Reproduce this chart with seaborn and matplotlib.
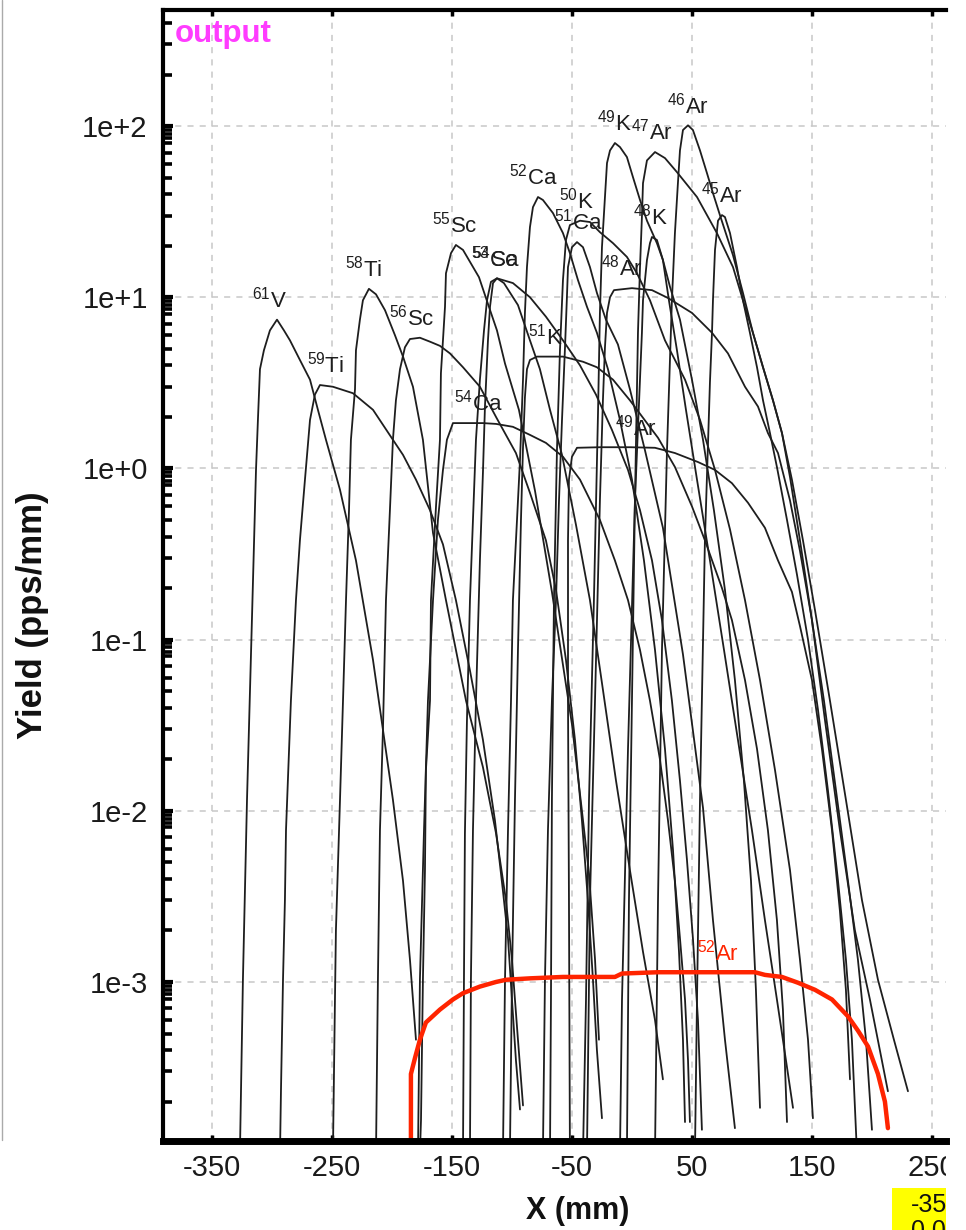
import numpy as np
import pandas as pd
import matplotlib
matplotlib.use("Agg")
import matplotlib.pyplot as plt
import seaborn as sns
from matplotlib.ticker import LogLocator, FixedLocator, NullFormatter, FuncFormatter
from matplotlib.transforms import Bbox, TransformedBbox
from matplotlib.patches import Rectangle
from matplotlib.lines import Line2D

# ---------------- data (X in mm, Yield in pps/mm) ----------------
x_61V = [-326.7, -324.2, -320.8, -316.7, -313.3, -311.7, -310, -306.7, -301.7, -295.8, -290, -285,
         -276.7, -268.3, -261.7, -255, -243.3, -230, -215.8, -199.2, -190.8, -185, -180]
y_61V = [1e-4, 0.00103, 0.0116, 0.13, 0.98, 1.92, 3.8, 4.9, 6.4, 7.4, 6.4, 5.6,
         4.3, 3.3, 2.2, 1.47, 0.75, 0.29, 0.076, 0.0116, 0.0039, 0.00135, 0.00046]

x_59Ti = [-293.3, -292.5, -290.8, -289.2, -288.3, -284.2, -280, -276.7, -272.5, -268.3, -264.2, -260,
          -249.2, -232.5, -215.8, -199.2, -190.8, -180, -168.3, -157.5, -146.7, -135, -124.2, -114.2,
          -107.5, -103.3, -100, -96.7, -93.3]
y_59Ti = [1e-4, 2.3e-4, 0.00103, 0.0030, 0.0077, 0.044, 0.17, 0.38, 0.86, 1.92, 2.7, 3.07,
          3.0, 2.75, 2.2, 1.47, 1.2, 0.86, 0.57, 0.36, 0.17, 0.066, 0.026, 0.0088,
          0.0034, 0.0018, 0.00079, 0.00035, 0.00018]

x_58Ti = [-249.2, -247.5, -246.7, -243.3, -240.8, -238.3, -235.8, -234.2, -230.8, -230, -226.7, -224.2,
          -219.2, -213.3, -205.8, -197.5, -190.8, -182.5, -174.2, -165.8, -155, -146.7, -138.3, -124.2,
          -113.3, -105, -100, -95, -90.8]
y_58Ti = [1e-4, 7.9e-4, 0.0020, 0.0116, 0.044, 0.17, 0.57, 1.47, 2.9, 4.9, 7.4, 9.6,
          11.2, 10.4, 8.4, 6.0, 4.5, 3.0, 1.47, 0.42, 0.17, 0.087, 0.044, 0.018,
          0.0074, 0.0030, 0.00135, 0.00046, 0.00019]

x_56Sc = [-213.3, -211.7, -210, -207.5, -205, -201.7, -199.2, -196.7, -193.3, -189.2, -185, -176.7,
          -168.3, -160, -151.7, -140.8, -126.7, -113.3, -96.7, -85, -71.7, -63.3, -55, -47.5,
          -41.7, -36.7, -32.5, -29.2, -25]
y_56Sc = [1e-4, 0.00103, 0.0077, 0.030, 0.17, 0.57, 1.47, 2.5, 3.8, 5.1, 5.7, 5.8,
          5.5, 5.2, 4.7, 3.9, 3.0, 2.0, 1.23, 0.72, 0.38, 0.195, 0.076, 0.026,
          0.0088, 0.0030, 0.00103, 0.00040, 0.00016]

x_55Sc = [-176.7, -175.8, -174.2, -172.5, -171.7, -168.3, -167.5, -163.3, -160, -159.2, -157.5, -155.8,
          -155, -150.8, -146.7, -140.8, -127.5, -119.2, -112.5, -105.8, -94.2, -80.8, -66.7, -50,
          -41.7, -35.8, -30.8, -27.5]
y_55Sc = [1e-4, 1.56e-4, 0.00103, 0.0045, 0.0173, 0.044, 0.17, 0.60, 1.47, 3.6, 5.6, 8.8,
          13.8, 18.1, 20.2, 18.9, 13.1, 8.8, 6.4, 4.1, 2.2, 0.74, 0.19, 0.032,
          0.010, 0.0043, 0.00136, 0.00046]

x_54Ca = [-178.3, -176.7, -173.3, -170, -165.8, -161.7, -157.5, -154.2, -149.2, -143.3, -124.2, -113.3,
          -99.2, -85, -71.7, -57.5, -43.3, -26.7, -14.2, -3.3, 6.7, 15, 23.3, 30,
          35.8, 40, 44.2, 46.7, 48.3]
y_54Ca = [1e-4, 0.00103, 0.0077, 0.044, 0.17, 0.50, 0.98, 1.47, 1.84, 1.84, 1.84, 1.82,
          1.75, 1.57, 1.41, 1.17, 0.86, 0.50, 0.29, 0.17, 0.087, 0.044, 0.020, 0.0088,
          0.0039, 0.0018, 0.00079, 0.00035, 1.52e-4]

x_53Ca = [-135, -134.2, -132.5, -130, -126.7, -124.2, -122.5, -120, -118.3, -115.8, -112.5, -106.7,
          -95, -85, -76.7, -68.3, -58.3, -46.7, -35, -24.2, -13.3, -1.7, 9.2, 19.2, 25.8]
y_53Ca = [1e-4, 0.00103, 0.0077, 0.044, 0.29, 0.94, 2.3, 5.6, 8.8, 12.1, 12.9, 12.1,
          9.0, 5.6, 3.8, 2.2, 1.2, 0.47, 0.17, 0.051, 0.015, 0.0045, 0.0015, 0.0006, 2.7e-4]

x_54Sc = [-140.8, -140, -139.2, -137.5, -135, -132.5, -130, -126.7, -123.3, -120.8, -117.5, -112.5,
          -99.2, -85, -71.7, -57.5, -43.3, -30, -16.7, -3.3, 6.7, 16.7, 25, 33.3,
          40, 45.8, 50.8, 55, 58.3]
y_54Sc = [1e-4, 0.00103, 0.0074, 0.034, 0.17, 0.50, 1.47, 3.3, 6.4, 9.6, 12.3, 12.9,
          12.1, 10.0, 7.7, 5.6, 4.0, 2.7, 1.68, 0.98, 0.57, 0.29, 0.13, 0.044,
          0.015, 0.0052, 0.0018, 0.0006, 1.37e-4]

x_52Ca = [-107.5, -105.8, -105, -103.3, -100.8, -99.2, -95.8, -93.3, -90.8, -89.2, -87.5, -85,
          -82.5, -78.3, -74.2, -65.8, -57.5, -51.7, -45, -37.5, -29.2, -20, -10, 0,
          10, 19.2, 27.5, 34.2, 39.2, 42.5, 44.2]
y_52Ca = [1e-4, 0.00103, 0.0020, 0.0077, 0.044, 0.17, 0.50, 1.12, 3.3, 8.1, 15.0, 25.7,
          33.6, 38.5, 37, 31.0, 23.7, 18.1, 12.6, 8.8, 6.2, 3.8, 1.92, 0.86,
          0.29, 0.087, 0.023, 0.0059, 0.0015, 0.00046, 1.52e-4]

x_51Ca = [-74.2, -72.5, -70, -66.7, -63.3, -60.8, -58.3, -55.8, -54.2, -53.3, -50, -45.8,
          -40.8, -35, -29.2, -21.7, -11.7, -1.7, 10.8, 25.8, 42.5, 59.2, 67.5, 77.5, 85.8]
y_51Ca = [1e-4, 0.00103, 0.0077, 0.044, 0.17, 0.65, 1.92, 5.1, 10.0, 15.0, 19.6, 21.0,
          19.6, 15.0, 10.6, 7.4, 5.3, 2.9, 1.28, 0.45, 0.082, 0.0104, 0.0023, 0.00046, 1.4e-4]

x_50K = [-68.3, -67.5, -66.7, -65, -62.5, -60, -57.5, -55, -51.7, -43.3, -35, -26.7,
         -15.8, -4.2, 4.2, 15, 27.5, 44.2, 56.7, 69.2, 81.7, 94.2, 106.7, 119.2,
         131.7, 140, 146.7, 150.8]
y_50K = [1e-4, 0.00079, 0.0116, 0.17, 1.28, 4.9, 12.6, 21.6, 26.4, 28, 27.5, 24.0,
         20.7, 17.2, 13.8, 9.6, 5.6, 3.3, 1.92, 0.98, 0.44, 0.17, 0.058, 0.0173,
         0.0045, 0.00135, 0.00046, 1.6e-4]

x_51K = [-101.7, -100, -97.5, -95, -92.5, -90.8, -89.2, -87.5, -85, -79.2, -57.5, -40.8,
         -29.2, -15.8, -1.7, 12.5, 21.7, 35.8, 50, 60.8, 75, 83.3, 94.2, 104.2,
         113.3, 120.8, 125.8, 129.2]
y_51K = [1e-4, 0.00103, 0.0116, 0.087, 0.50, 1.33, 2.6, 3.8, 4.3, 4.5, 4.5, 4.2,
         3.9, 3.3, 2.5, 1.84, 1.51, 1.02, 0.60, 0.38, 0.20, 0.13, 0.058, 0.023,
         0.0077, 0.0023, 0.00069, 1.52e-4]

x_49K = [-40.8, -38.3, -35.8, -31.7, -28.3, -26.7, -25, -22.5, -20.8, -18.3, -14.2, -10,
         -4.2, 0.8, 6.7, 12.5, 20.8, 25.8, 31.7, 40, 50, 59.2, 68.3, 77.5,
         85.8, 93.3, 99.2, 103.3, 106.7]
y_49K = [1e-4, 0.00079, 0.0116, 0.17, 2.1, 8.1, 19.6, 38.5, 60.8, 72, 79.6, 75.4,
         65.9, 50.4, 37, 28, 20.7, 16.5, 11.5, 7.4, 3.3, 1.47, 0.57, 0.195,
         0.058, 0.015, 0.0039, 0.0009, 1.84e-4]

x_48K = [-10, -8.3, -3.3, 2.5, 8.3, 9.2, 12.5, 15, 16.7, 20.8, 25.8, 30.8,
         37.5, 45, 54.2, 65, 76.7, 88.3, 100, 110.8, 120.8, 128.3, 134.2]
y_48K = [1e-4, 0.00079, 0.023, 0.65, 6.2, 9.6, 16.5, 20.7, 22.5, 21.6, 16.5, 9.6,
         4.9, 2.2, 0.86, 0.29, 0.087, 0.026, 0.0077, 0.0023, 0.00079, 0.00035, 1.84e-4]

x_47Ar = [-4.2, -2.5, 0, 2.5, 5, 6.7, 8.3, 9.2, 12.5, 19.2, 27.5, 37.5,
          54.2, 70.8, 84.2, 92.5, 100.8, 109.2, 117.5, 125, 131.7, 140, 150, 160.8,
          173.3, 185.8, 198.3, 213.3]
y_47Ar = [1e-4, 0.0030, 0.044, 0.65, 6.2, 15.0, 29.4, 46.4, 63, 70.5, 65, 53.8,
          38.5, 23.7, 15.0, 9.6, 6.2, 3.9, 2.5, 1.61, 0.89, 0.38, 0.13, 0.034,
          0.0077, 0.0020, 0.00079, 2.3e-4]

x_46Ar = [19.2, 21.7, 25, 29.2, 33.3, 35.8, 38.3, 40, 42.5, 46.7, 50.8, 56.7,
          62.5, 67.5, 73.3, 84.2, 92.5, 100.8, 109.2, 117.5, 125, 133.3, 142.5, 152.5,
          165, 178.3, 191.7, 205, 218.3, 230]
y_46Ar = [1e-4, 0.0030, 0.087, 1.28, 9.6, 23.7, 46.4, 72, 94.8, 101, 94.8, 72,
          53.1, 40.6, 30.2, 17.6, 10.6, 6.2, 3.9, 2.5, 1.61, 0.86, 0.38, 0.149,
          0.044, 0.0116, 0.0030, 0.00103, 0.00046, 2.3e-4]

x_45Ar = [52.5, 54.2, 56.7, 60.8, 65, 66.7, 67.5, 69.2, 71.7, 75, 77.5, 81.7,
          87.5, 92.5, 98.3, 104.2, 109.2, 115, 120.8, 129.2, 137.5, 146.7, 155, 163.3,
          171.7, 178.3, 183.3, 187.5]
y_45Ar = [1e-4, 0.00079, 0.0116, 0.38, 3.2, 6.2, 9.6, 18.9, 28, 30.2, 29.4, 23.7,
          15.0, 9.6, 6.2, 3.9, 2.5, 1.61, 1.02, 0.50, 0.24, 0.10, 0.039, 0.0132,
          0.0039, 0.00135, 0.00046, 1e-4]

x_48Ar = [-37.5, -35, -30.8, -26.7, -24.2, -22.5, -20.8, -18.3, -15, 0, 16.7, 30,
          50, 66.7, 80, 94.2, 105, 113.3, 121.7, 131.7, 140, 150, 160, 170,
          180, 188.3, 195, 200]
y_48Ar = [1e-4, 0.0030, 0.044, 0.65, 2.5, 5.1, 8.1, 10.0, 11.0, 11.3, 11.0, 9.9,
          8.1, 6.2, 4.7, 3.0, 2.3, 1.61, 1.23, 0.65, 0.33, 0.13, 0.044, 0.0132,
          0.0039, 0.00135, 0.00046, 1.37e-4]

x_49Ar = [-51.7, -52.5, -53.3, -53.3, -52.5, -50, -45.8, -26.7, -1.7, 19.2, 35.8, 55,
          69.2, 83.3, 96.7, 110.8, 121.7, 133.3, 140, 150, 158.3, 166.7, 173.3, 178.3, 181.7]
y_49Ar = [1e-4, 0.0030, 0.044, 0.38, 0.86, 1.17, 1.32, 1.33, 1.33, 1.32, 1.23, 1.09,
          0.98, 0.82, 0.63, 0.45, 0.29, 0.19, 0.12, 0.058, 0.023, 0.0077, 0.0026, 0.0009, 0.00027]

x_52Ar = [-184.2, -184.2, -180.8, -176.7, -171.7, -160, -149.2, -140.8, -126.7, -113.3, -105, -85,
          -57.5, -14.2, -8.3, 21.7, 102.5, 110.8, 125, 138.3, 152.5, 166.7, 180, 188.3,
          196.7, 205, 210.8, 213.3]
y_52Ar = [1.1e-4, 0.00029, 0.00036, 0.00046, 0.00058, 0.00069, 0.00079, 0.00086, 0.00094, 0.00100, 0.00103, 0.00105,
          0.00107, 0.00107, 0.00112, 0.00114, 0.00114, 0.00110, 0.00107, 0.00099, 0.00090, 0.00079, 0.00063, 0.00052,
          0.00042, 0.00029, 0.00020, 0.00014]

# isotope names, masses, elements, label centre X (mm)
isotopes = ["61V", "59Ti", "58Ti", "56Sc", "55Sc", "54Ca", "53Ca", "54Sc", "52Ca", "51Ca",
            "50K", "51K", "49K", "48K", "47Ar", "46Ar", "45Ar", "48Ar", "49Ar", "52Ar"]
masses = [61, 59, 58, 56, 55, 54, 53, 54, 52, 51, 50, 51, 49, 48, 47, 46, 45, 48, 49, 52]
elements = ["V", "Ti", "Ti", "Sc", "Sc", "Ca", "Ca", "Sc", "Ca", "Ca",
            "K", "K", "K", "K", "Ar", "Ar", "Ar", "Ar", "Ar", "Ar"]
label_x = [-301.7, -255.8, -223.3, -183.3, -147.5, -128.3, -114.2, -114.2, -82.5, -45,
           -46.7, -72.5, -15, 15, 16.7, 46.7, 75, -8.3, 3.3, 71.7]

series_x = [x_61V, x_59Ti, x_58Ti, x_56Sc, x_55Sc, x_54Ca, x_53Ca, x_54Sc, x_52Ca, x_51Ca,
            x_50K, x_51K, x_49K, x_48K, x_47Ar, x_46Ar, x_45Ar, x_48Ar, x_49Ar, x_52Ar]
series_y = [y_61V, y_59Ti, y_58Ti, y_56Sc, y_55Sc, y_54Ca, y_53Ca, y_54Sc, y_52Ca, y_51Ca,
            y_50K, y_51K, y_49K, y_48K, y_47Ar, y_46Ar, y_45Ar, y_48Ar, y_49Ar, y_52Ar]

x_ticks = [-350, -250, -150, -50, 50, 150, 250]
y_ticks = [1e-3, 1e-2, 1e-1, 1e0, 1e1, 1e2]
readout_lines = ["-350.000", "0.0000"]

# ---------------- build long table ----------------
frames = []
for name, xs, ys in zip(isotopes, series_x, series_y):
    frames.append(pd.DataFrame({"X": xs, "Yield": ys, "isotope": name, "order": range(len(xs))}))
df = pd.concat(frames, ignore_index=True)
black = df[df.isotope != "52Ar"]
red = df[df.isotope == "52Ar"]

# ---------------- style ----------------
sns.set_theme(style="white")
plt.rcParams["font.family"] = ["Liberation Sans", "DejaVu Sans"]
plt.rcParams["mathtext.fontset"] = "custom"
plt.rcParams["mathtext.rm"] = "Liberation Sans"
plt.rcParams["mathtext.it"] = "Liberation Sans:italic"
plt.rcParams["mathtext.bf"] = "Liberation Sans:bold"
plt.rcParams["axes.unicode_minus"] = False

W, H = 966, 1230
fig = plt.figure(figsize=(W / 100, H / 100), dpi=100)
ax = fig.add_axes([163 / W, 89 / H, 783 / W, 1131 / H])

LINE = "#1e1e1e"
RED = "#ff2400"

sns.lineplot(data=black, x="X", y="Yield", units="isotope", estimator=None, sort=False,
             color=LINE, linewidth=1.3, ax=ax, legend=False)
sns.lineplot(data=red, x="X", y="Yield", estimator=None, sort=False,
             color=RED, linewidth=3.2, ax=ax, legend=False)

ax.set_yscale("log")
ax.set_xlim(-390.8, 261.7)
ax.set_ylim(10 ** -3.929, 10 ** 2.678)

ax.xaxis.set_major_locator(FixedLocator(x_ticks))
ax.yaxis.set_major_locator(FixedLocator(y_ticks))
ax.yaxis.set_minor_locator(LogLocator(base=10, subs=(2, 3, 4, 5, 6, 7, 8, 8.5, 9, 9.5), numticks=100))
ax.yaxis.set_minor_formatter(NullFormatter())
ax.yaxis.set_major_formatter(FuncFormatter(lambda v, p: "1e%+d" % int(round(np.log10(v)))))
ax.xaxis.set_major_formatter(FuncFormatter(lambda v, p: "%d" % v))

ax.grid(True, which="major", axis="both", color="#c8c8c8", linestyle=(0, (4, 4)), linewidth=1.1)
ax.set_axisbelow(True)

ax.tick_params(axis="y", which="major", direction="in", length=7, width=3, left=True, right=False,
               labelsize=21, pad=11, color="black", labelcolor="#1a1a1a")
ax.tick_params(axis="y", which="minor", direction="in", length=6.5, width=2.6, left=True, right=False,
               color="black")
ax.tick_params(axis="x", which="major", direction="in", length=4, width=2.5, top=True, bottom=True,
               labelsize=21, pad=9, color="black", labelcolor="#1a1a1a")

for side, lw in [("left", 3.0), ("top", 3.0), ("bottom", 5.0)]:
    ax.spines[side].set_color("black")
    ax.spines[side].set_linewidth(lw)
ax.spines["right"].set_visible(False)

ax.set_xlabel("X (mm)", fontsize=22, fontweight="bold", color="#111111")
ax.xaxis.set_label_coords(0.530, -0.049)
ax.set_ylabel("Yield (pps/mm)", fontsize=25, fontweight="bold", color="#111111")
ax.yaxis.set_label_coords(-0.146, 0.465)

# clip x tick labels at the panel edge (as in the reference)
clip = TransformedBbox(Bbox([[0, 0], [946 / W, 1]]), fig.transFigure)
fig.canvas.draw()
for lab in ax.get_xticklabels():
    lab.set_clip_on(True)
    lab.set_clip_box(clip)

# isotope labels at each curve's maximum
for name, m, el, lx, ys in zip(isotopes, masses, elements, label_x, series_y):
    col = RED if name == "52Ar" else "#1e1e1e"
    ax.annotate(r"$^{%d}$%s" % (m, el), xy=(lx, max(ys)), xytext=(0, 14.5),
                textcoords="offset points", ha="center", va="center",
                fontsize=16, color=col, zorder=5)

ax.text(0.0153, 0.992, "output", transform=ax.transAxes, ha="left", va="top",
        fontsize=22.5, fontweight="bold", color="#ff3cff")

# window border on the left and yellow readout box (cut at the panel edge)
fig.add_artist(Line2D([2 / W, 2 / W], [1, 1 - 1140 / H], transform=fig.transFigure,
                      color="#aaaaaa", linewidth=1))
fig.add_artist(Rectangle((892 / W, 0), 54 / W, 42 / H, transform=fig.transFigure,
                         facecolor="#ffff00", edgecolor="none"))
t = fig.text(911 / W, 1 - 1193 / H, "\n".join(readout_lines), fontsize=18, ha="left", va="top",
             color="#111111", linespacing=1.1)
t.set_clip_on(True)
t.set_clip_box(clip)

fig.savefig("out.png", dpi=100)
